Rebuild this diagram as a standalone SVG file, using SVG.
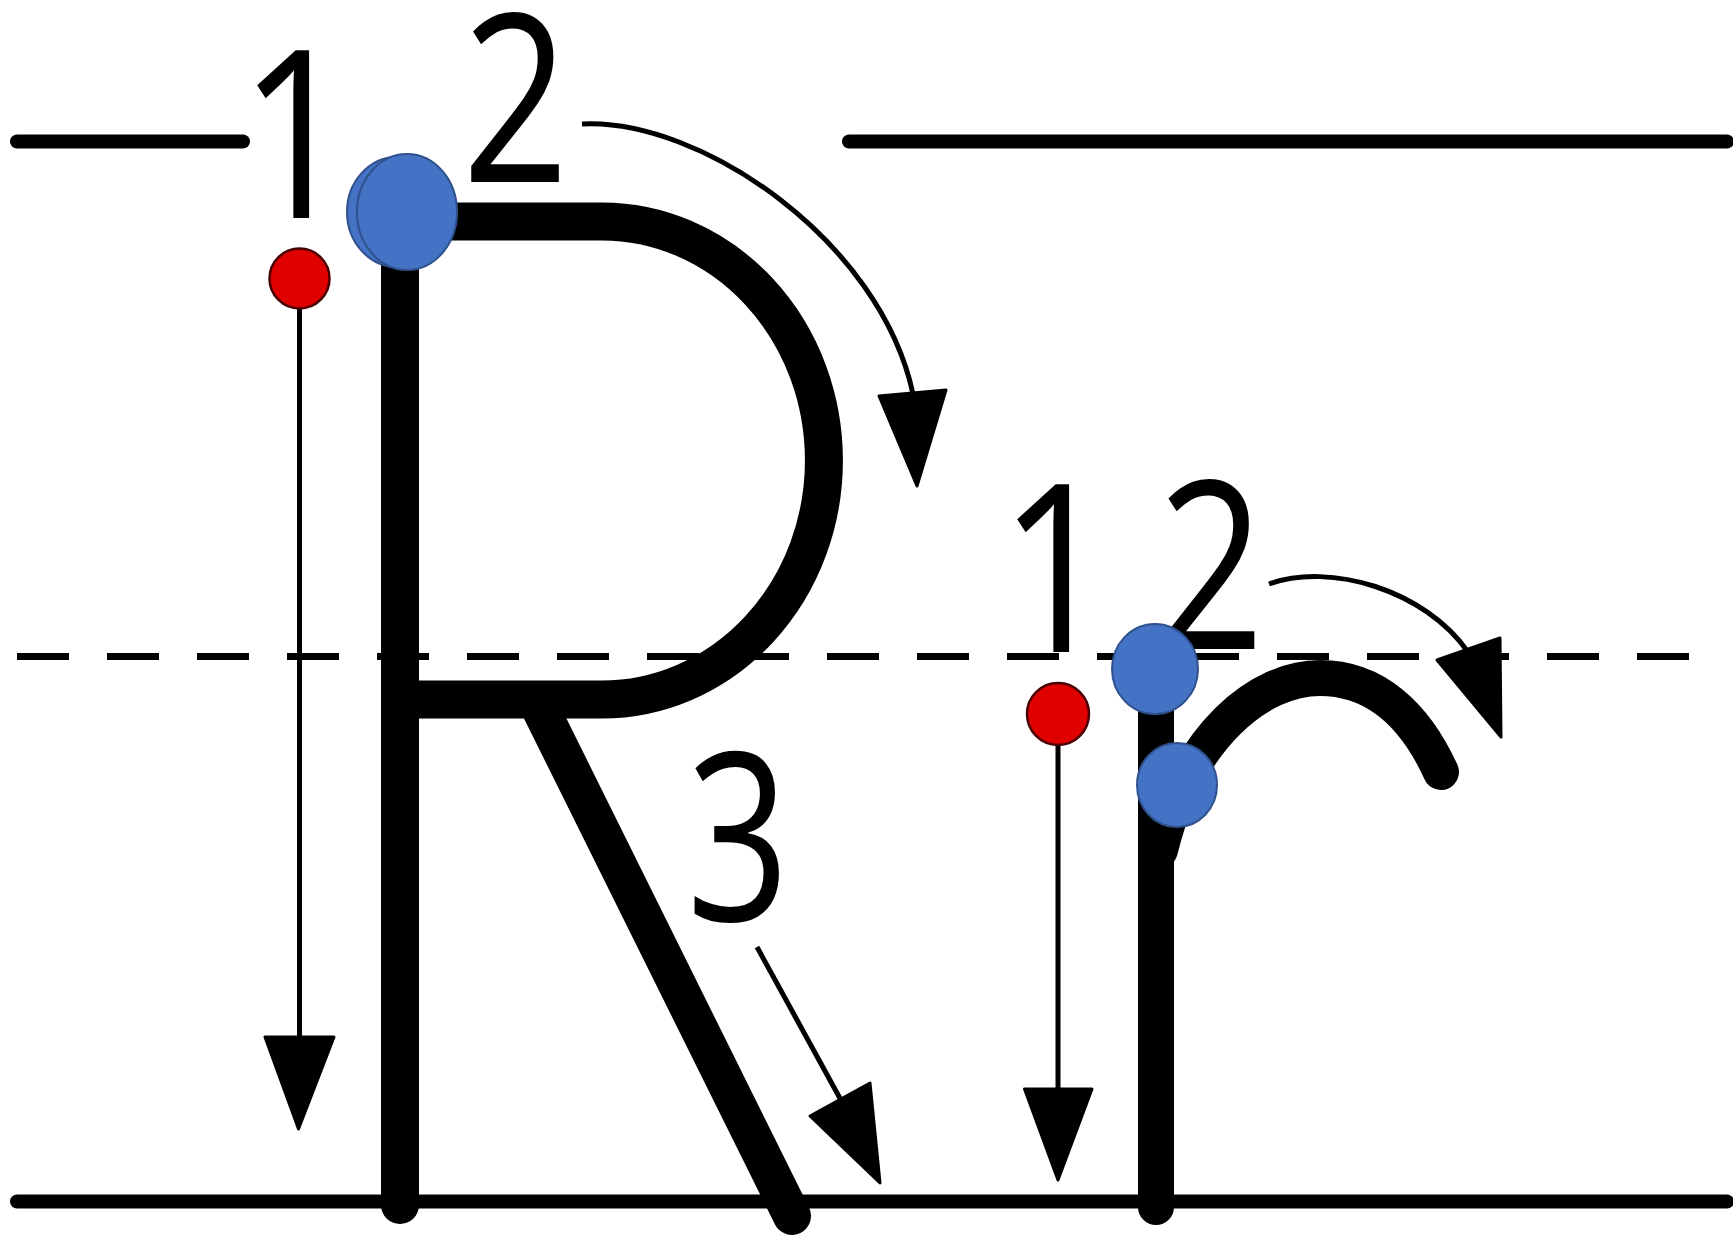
<svg xmlns="http://www.w3.org/2000/svg" width="1733" height="1242" viewBox="0 0 1733 1242">
<style>
.guide{stroke:#000;stroke-width:14;stroke-linecap:round;fill:none}
.dash{stroke:#000;stroke-width:7;stroke-dasharray:52 38;fill:none}
.stroke{stroke:#000;stroke-width:38;fill:none;stroke-linecap:round}
.thin{stroke:#000;stroke-width:5;fill:none}
.head{fill:#000;stroke:#000;stroke-width:3;stroke-linejoin:round}
.num{font-family:"Open Sans","Noto Sans",sans-serif;font-size:234px;fill:#000;text-anchor:middle}
.red{fill:#E00000;stroke:#4a0000;stroke-width:2.5}
.blue{fill:#4472C4;stroke:#2F528F;stroke-width:2}
</style>
<rect width="1733" height="1242" fill="#fff"/>
<g id="guides">
<line class="guide" x1="17" y1="141.5" x2="243" y2="141.5"/>
<line class="guide" x1="849" y1="141.5" x2="1727" y2="141.5"/>
<line class="dash" x1="17" y1="656.5" x2="1720" y2="656.5"/>
<line class="guide" x1="17" y1="1201.5" x2="1727" y2="1201.5"/>
</g>
<g id="letter-R">
<path class="stroke" d="M400 240 V1205"/>
<path class="stroke" style="stroke-linecap:butt" d="M400 221.5 H602 A222 239 0 0 1 602 699.5 H400"/>
<path class="stroke" d="M541 710 L792 1216"/>
</g>
<g id="letter-r">
<path class="stroke" style="stroke-width:36" d="M1156 700 V1207"/>
<path class="stroke" style="stroke-width:36" d="M1160 850 C1188 735 1260 678 1320 678 C1375 678 1415 715 1441 772"/>
</g>
<g id="connectors">
<line class="thin" x1="299.5" y1="300" x2="299.5" y2="1040"/>
<polygon class="head" points="265,1037 334,1037 298.5,1129"/>
<path class="thin" d="M582 124 C700 118 880 240 913 394"/>
<polygon class="head" points="879,396 946,390 917,486"/>
<line class="thin" x1="757" y1="947" x2="842" y2="1102"/>
<polygon class="head" points="810,1116 870,1083 880,1183"/>
<line class="thin" x1="1058" y1="735" x2="1058" y2="1092"/>
<polygon class="head" points="1024.5,1089 1092,1089 1058,1180"/>
<path class="thin" d="M1269 584 C1330 562 1425 590 1468 652"/>
<polygon class="head" points="1437,660 1500,638 1501,737"/>
</g>
<g id="labels">
<text class="num" transform="translate(296 218) scale(0.85 1)">1</text>
<text class="num" transform="translate(515.5 182) scale(0.8 1)">2</text>
<text class="num" transform="translate(738 921) scale(0.77 1)">3</text>
<text class="num" transform="translate(1056 652) scale(0.85 1)">1</text>
<text class="num" transform="translate(1211 649) scale(0.8 1)">2</text>
</g>
<g id="start-dots">
<circle id="dot-R1" class="red" cx="299.5" cy="278.5" r="30"/>
<circle id="dot-r1" class="red" cx="1058" cy="714" r="31"/>
<g id="dot-R2">
<ellipse class="blue" cx="397" cy="212" rx="50" ry="55"/>
<ellipse class="blue" cx="407" cy="212" rx="50" ry="58"/>
</g>
<ellipse id="dot-r2a" class="blue" cx="1155" cy="669" rx="43" ry="45"/>
<ellipse id="dot-r2b" class="blue" cx="1177" cy="785" rx="40" ry="42"/>
</g>
</svg>
